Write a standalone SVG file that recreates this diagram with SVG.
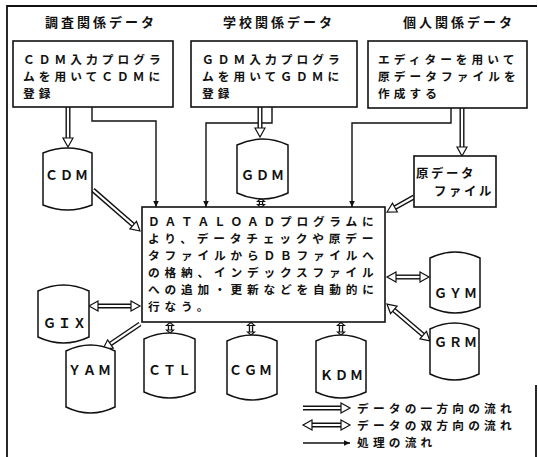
<svg xmlns="http://www.w3.org/2000/svg" width="538" height="457" viewBox="0 0 538 457">
<style>
text{font-family:"Noto Sans CJK JP","Noto Sans",sans-serif;font-weight:700;fill:#111;font-size:13px}
.t{letter-spacing:3px}
.b{font-size:11.7px;letter-spacing:4.05px}
.d{font-size:11.7px;letter-spacing:4.8px}
.c{letter-spacing:2px}
.r{font-size:12.4px;letter-spacing:2.6px}
.lg{font-size:11.7px;letter-spacing:4.2px}
.box{fill:#fff;stroke:#111;stroke-width:1.6}
.cyl{fill:#fff;stroke:#111;stroke-width:1.5}
.frame{fill:none;stroke:#111;stroke-width:1.8}
.ob{fill:none;stroke:#111;stroke-width:5}
.iw{fill:none;stroke:#fff;stroke-width:2.2}
.sb{fill:none;stroke:#111;stroke-width:4.4}
.sw{fill:none;stroke:#fff;stroke-width:1.8}
.h1{stroke:none;fill:none;marker-end:url(#hh)}
.h2{stroke:none;fill:none;marker-end:url(#hh);marker-start:url(#hh)}
.hs{stroke:none;fill:none;marker-end:url(#hsm);marker-start:url(#hsm)}
.ln{fill:none;stroke:#111;stroke-width:1.4;marker-end:url(#sa)}
</style>
<defs>
<marker id="hh" markerUnits="userSpaceOnUse" viewBox="-6 -7 13 14" refX="0" refY="0" markerWidth="13" markerHeight="14" orient="auto-start-reverse">
<path d="M-4,-5 L5,0 L-4,5 Z" fill="#fff" stroke="#111" stroke-width="1.2"/>
</marker>
<marker id="hsm" markerUnits="userSpaceOnUse" viewBox="-4 -5 8 10" refX="0" refY="0" markerWidth="8" markerHeight="10" orient="auto-start-reverse">
<path d="M-1,-3.6 L2,0 L-1,3.6 Z" fill="#fff" stroke="#111" stroke-width="1.1"/>
</marker>
<marker id="sa" markerUnits="userSpaceOnUse" viewBox="-7 -4 8 8" refX="0" refY="0" markerWidth="8" markerHeight="8" orient="auto">
<path d="M-6,-2.8 L0,0 L-6,2.8 Z" fill="#111"/>
</marker>
</defs>

<g id="frame">
<path class="frame" d="M7,457 V6 H537"/>
<path class="frame" d="M536,385 V457" stroke-width="1"/>
</g>

<g id="titles">
<text class="t" x="45" y="27">調査関係データ</text>
<text class="t" x="223" y="27">学校関係データ</text>
<text class="t" x="403" y="27">個人関係データ</text>
</g>

<g id="connectors">
<path class="ln" d="M92,107 V121 H156 V207"/>
<path class="ln" d="M272,107 V123 H206 V207"/>
<path class="ln" d="M451,108 V123 H352 V207"/>
<path class="ob" d="M68,107 V142"/><path class="iw" d="M68,107 V142"/><path class="h1" d="M68,107 V142"/>
<path class="ob" d="M260,107 V132"/><path class="iw" d="M260,107 V132"/><path class="h1" d="M260,107 V132"/>
<path class="ob" d="M462,108 V151"/><path class="iw" d="M462,108 V151"/><path class="h1" d="M462,108 V151"/>
<path class="ob" d="M93,190 L136.2,227.7"/><path class="iw" d="M93,190 L136.2,227.7"/><path class="h1" d="M93,190 L136.2,227.7"/>
<path class="ob" d="M414,197 L391.4,209.6"/><path class="iw" d="M414,197 L391.4,209.6"/><path class="h1" d="M414,197 L391.4,209.6"/>
<path class="ob" d="M140,324 L107.1,346.2"/><path class="iw" d="M140,324 L107.1,346.2"/><path class="h1" d="M140,324 L107.1,346.2"/>
<path class="ob" d="M392,277 H424"/><path class="iw" d="M392,277 H424"/><path class="h2" d="M392,277 H424"/>
<path class="ob" d="M390.8,307.3 L426.2,337.7"/><path class="iw" d="M390.8,307.3 L426.2,337.7"/><path class="h2" d="M390.8,307.3 L426.2,337.7"/>
<path class="ob" d="M94,306 H135"/><path class="iw" d="M94,306 H135"/><path class="h2" d="M94,306 H135"/>
<path class="sb" d="M261,200.5 V205.5"/><path class="sw" d="M261,200.5 V205.5"/><path class="hs" d="M261,200.5 V205.5"/>
<path class="sb" d="M170,324.5 V331"/><path class="sw" d="M170,324.5 V331"/><path class="hs" d="M170,324.5 V331"/>
<path class="sb" d="M251,324.5 V333"/><path class="sw" d="M251,324.5 V333"/><path class="hs" d="M251,324.5 V333"/>
<path class="sb" d="M341,324.5 V333"/><path class="sw" d="M341,324.5 V333"/><path class="hs" d="M341,324.5 V333"/>
</g>

<g id="box-cdm-input">
<rect class="box" x="13" y="41" width="160" height="66"/>
<text class="b" x="23" y="64">ＣＤＭ入力プログラ<tspan x="23" y="81">ムを用いてＣＤＭに</tspan><tspan x="23" y="98">登録</tspan></text>
</g>
<g id="box-gdm-input">
<rect class="box" x="191" y="41" width="166" height="66"/>
<text class="b" x="202" y="64">ＧＤＭ入力プログラ<tspan x="202" y="81">ムを用いてＧＤＭに</tspan><tspan x="202" y="98">登録</tspan></text>
</g>
<g id="box-editor">
<rect class="box" x="368" y="41" width="159" height="67"/>
<text class="b" x="378" y="64">エディターを用いて<tspan x="378" y="81">原データファイルを</tspan><tspan x="378" y="98">作成する</tspan></text>
</g>

<g id="raw-file">
<rect class="box" x="414" y="156" width="82" height="51"/>
<text class="r" x="416" y="178">原データ<tspan x="434" y="196">ファイル</tspan></text>
</g>

<g id="dataload">
<rect class="box" x="142" y="207" width="243" height="115"/>
<text class="d" x="148" y="226">ＤＡＴＡＬＯＡＤプログラムに<tspan x="148" y="243">より、データチェックや原デー</tspan><tspan x="148" y="260">タファイルからＤＢファイルへ</tspan><tspan x="148" y="277">の格納、インデックスファイル</tspan><tspan x="148" y="294">への追加・更新などを自動的に</tspan><tspan x="148" y="311">行なう。</tspan></text>
</g>

<g id="cdm">
<path class="cyl" d="M43,153 Q67.5,143 92,153 V205 Q67.5,215 43,205 Z"/>
<text class="c" x="45" y="180">ＣＤＭ</text>
</g>
<g id="gdm">
<path class="cyl" d="M237,145 Q262.5,133 288,145 V193 Q262.5,205 237,193 Z"/>
<text class="c" x="241" y="180">ＧＤＭ</text>
</g>
<g id="gym">
<path class="cyl" d="M430,258 Q455,246 480,258 V307 Q455,319 430,307 Z"/>
<text class="c" x="434" y="298">ＧＹＭ</text>
</g>
<g id="grm">
<path class="cyl" d="M430,329 Q454.5,317 479,329 V374 Q454.5,386 430,374 Z"/>
<text class="c" x="434" y="347">ＧＲＭ</text>
</g>
<g id="gix">
<path class="cyl" d="M38,291 Q63.5,279 89,291 V337 Q63.5,349 38,337 Z"/>
<text class="c" x="43" y="328">ＧＩＸ</text>
</g>
<g id="yam">
<path class="cyl" d="M66,351 Q90.5,339 115,351 V407 Q90.5,419 66,407 Z"/>
<text class="c" x="68" y="375">ＹＡＭ</text>
</g>
<g id="ctl">
<path class="cyl" d="M144,339 Q169.5,327 195,339 V392 Q169.5,404 144,392 Z"/>
<text class="c" x="148" y="375">ＣＴＬ</text>
</g>
<g id="cgm">
<path class="cyl" d="M227,341 Q252,329 277,341 V394 Q252,406 227,394 Z"/>
<text class="c" x="229" y="375">ＣＧＭ</text>
</g>
<g id="kdm">
<path class="cyl" d="M316,341 Q341,329 366,341 V392 Q341,404 316,392 Z"/>
<text class="c" x="320" y="380">ＫＤＭ</text>
</g>

<g id="legend">
<path class="ob" d="M303,408 H345"/><path class="iw" d="M303,408 H345"/><path class="h1" d="M303,408 H345"/>
<path class="ob" d="M308,425 H345"/><path class="iw" d="M308,425 H345"/><path class="h2" d="M308,425 H345"/>
<path class="ln" d="M303,443 H350"/>
<text class="lg" x="357" y="413">データの一方向の流れ<tspan x="357" y="430">データの双方向の流れ</tspan><tspan x="357" y="447">処理の流れ</tspan></text>
</g>
</svg>
